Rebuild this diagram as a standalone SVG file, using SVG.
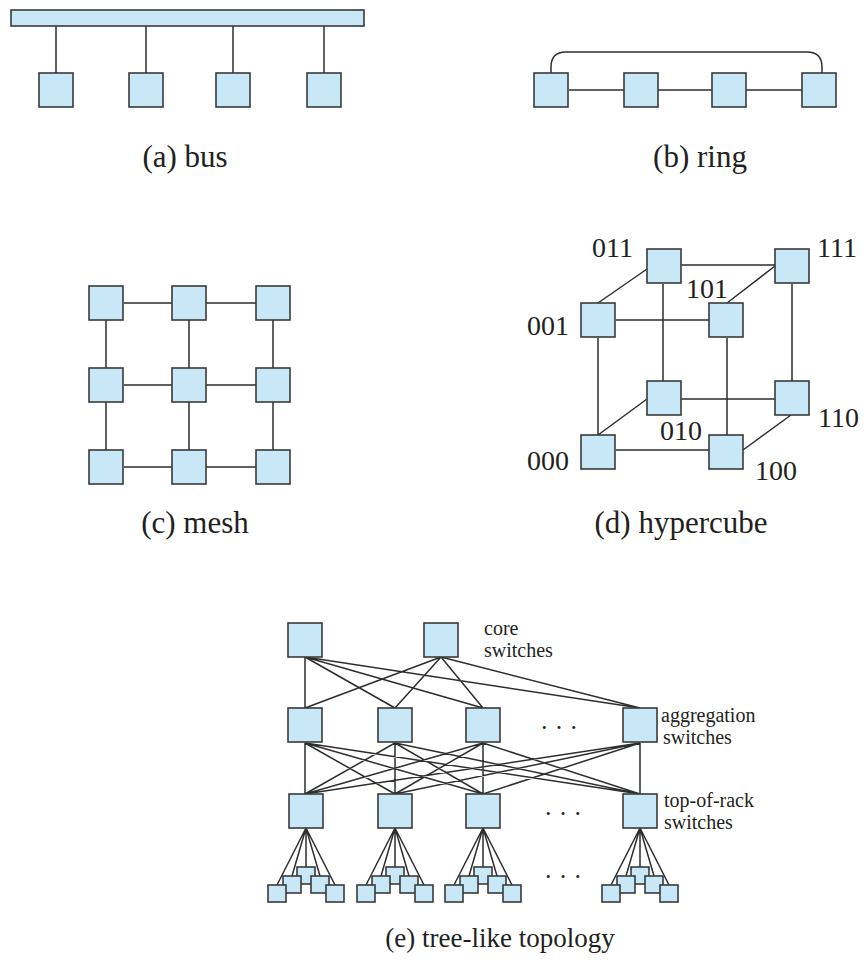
<svg xmlns="http://www.w3.org/2000/svg" width="867" height="965" viewBox="0 0 867 965">
<style>
.n{fill:#c8e8f8;stroke:#3a3a3a;stroke-width:1.6}
.e{stroke:#2e2e2e;stroke-width:1.5;fill:none}
.cap{font-family:"Liberation Serif","Times New Roman",serif;font-size:31px;fill:#231f20;text-anchor:middle}
.lb{font-family:"Liberation Serif","Times New Roman",serif;font-size:28px;fill:#231f20}
.tl{font-family:"Liberation Serif","Times New Roman",serif;font-size:20px;fill:#231f20}
.dt{font-family:"Liberation Serif","Times New Roman",serif;font-size:26px;fill:#231f20}
</style>
<defs>
<rect id="b" class="n" width="34" height="34"/>
<rect id="s" class="n" width="18" height="17"/>
</defs>
<g id="connectors">
<path class="e" d="M56 26V73M146 26V73M233 26V73M324 26V73"/>
<path class="e" d="M569 90H624M658 90H712M746 90H802"/>
<path class="e" d="M551 73V67Q551 52 566 52H807Q822 52 822 67V73"/>
<path class="e" d="M124 303H172M206 303H256M124 385H172M206 385H256M124 467H172M206 467H256"/>
<path class="e" d="M106 320V368M106 402V450M189 320V368M189 402V450M273 320V368M273 402V450"/>
<path class="e" d="M681 265H775M647 269L598 303M775 266L727 303M616 320H709M663 284V381M598 338V435M727 338V435M792 284V381M681 399H775M647 399L598 435M791 415L743 450M616 450H709"/>
<path class="e" d="M305 657L305 708M305 657L395 708M305 657L483 708M305 657L640 708M441 657L305 708M441 657L395 708M441 657L483 708M441 657L640 708"/>
<path class="e" d="M305 743L305 794M305 743L395 794M305 743L483 794M305 743L640 794M395 743L305 794M395 743L395 794M395 743L483 794M395 743L640 794M483 743L305 794M483 743L395 794M483 743L483 794M483 743L640 794M640 743L305 794M640 743L395 794M640 743L483 794M640 743L640 794"/>
<path class="e" d="M306 828L277 885M306 828L292 876M306 828L306 867M306 828L320 876M306 828L335 885"/>
<path class="e" d="M395 828L366 885M395 828L381 876M395 828L395 867M395 828L409 876M395 828L424 885"/>
<path class="e" d="M483 828L454 885M483 828L469 876M483 828L483 867M483 828L497 876M483 828L512 885"/>
<path class="e" d="M640 828L611 885M640 828L626 876M640 828L640 867M640 828L654 876M640 828L669 885"/>
</g>
<g id="bus">
<rect class="n" x="11" y="10" width="353" height="16"/>
<use href="#b" x="39" y="73"/><use href="#b" x="129" y="73"/><use href="#b" x="216" y="73"/><use href="#b" x="307" y="73"/>
<text class="cap" x="185" y="167">(a) bus</text>
</g>
<g id="ring">
<use href="#b" x="534" y="73"/><use href="#b" x="624" y="73"/><use href="#b" x="712" y="73"/><use href="#b" x="802" y="73"/>
<text class="cap" x="700" y="167">(b) ring</text>
</g>
<g id="mesh">
<use href="#b" x="89" y="286"/><use href="#b" x="172" y="286"/><use href="#b" x="256" y="286"/>
<use href="#b" x="89" y="368"/><use href="#b" x="172" y="368"/><use href="#b" x="256" y="368"/>
<use href="#b" x="89" y="450"/><use href="#b" x="172" y="450"/><use href="#b" x="256" y="450"/>
<text class="cap" x="195" y="533">(c) mesh</text>
</g>
<g id="hypercube">
<g id="h011"><use href="#b" x="647" y="249"/><text class="lb" x="592" y="257">011</text></g>
<g id="h111"><use href="#b" x="775" y="249"/><text class="lb" x="817" y="257">111</text></g>
<g id="h001"><use href="#b" x="581" y="303"/><text class="lb" x="527" y="335">001</text></g>
<g id="h101"><use href="#b" x="709" y="303"/><text class="lb" x="686" y="298">101</text></g>
<g id="h010"><use href="#b" x="647" y="381"/><text class="lb" x="660" y="440">010</text></g>
<g id="h110"><use href="#b" x="775" y="381"/><text class="lb" x="818" y="427">110</text></g>
<g id="h000"><use href="#b" x="581" y="435"/><text class="lb" x="527" y="470">000</text></g>
<g id="h100"><use href="#b" x="709" y="435"/><text class="lb" x="755" y="480">100</text></g>
<text class="cap" x="681" y="533">(d) hypercube</text>
</g>
<g id="tree">
<g id="core"><use href="#b" x="288" y="623"/><use href="#b" x="424" y="623"/>
<text class="tl" x="484" y="635">core</text><text class="tl" x="484" y="657">switches</text></g>
<g id="agg"><use href="#b" x="288" y="708"/><use href="#b" x="378" y="708"/><use href="#b" x="466" y="708"/><use href="#b" x="623" y="708"/>
<text class="dt" x="541" y="729" textLength="36">. . .</text>
<text class="tl" x="661" y="722">aggregation</text><text class="tl" x="663" y="744">switches</text></g>
<g id="tor"><use href="#b" x="289" y="794"/><use href="#b" x="378" y="794"/><use href="#b" x="466" y="794"/><use href="#b" x="623" y="794"/>
<text class="dt" x="545" y="815" textLength="36">. . .</text>
<text class="tl" x="664" y="807">top-of-rack</text><text class="tl" x="664" y="829">switches</text></g>
<g id="servers">
<use href="#s" x="297" y="867"/><use href="#s" x="283" y="876"/><use href="#s" x="311" y="876"/><use href="#s" x="268" y="885"/><use href="#s" x="326" y="885"/>
<use href="#s" x="386" y="867"/><use href="#s" x="372" y="876"/><use href="#s" x="400" y="876"/><use href="#s" x="357" y="885"/><use href="#s" x="415" y="885"/>
<use href="#s" x="474" y="867"/><use href="#s" x="460" y="876"/><use href="#s" x="488" y="876"/><use href="#s" x="445" y="885"/><use href="#s" x="503" y="885"/>
<use href="#s" x="631" y="867"/><use href="#s" x="617" y="876"/><use href="#s" x="645" y="876"/><use href="#s" x="602" y="885"/><use href="#s" x="660" y="885"/>
<text class="dt" x="545" y="878" textLength="36">. . .</text>
</g>
<text class="cap" x="500" y="947" style="font-size:27px">(e) tree-like topology</text>
</g>
</svg>
